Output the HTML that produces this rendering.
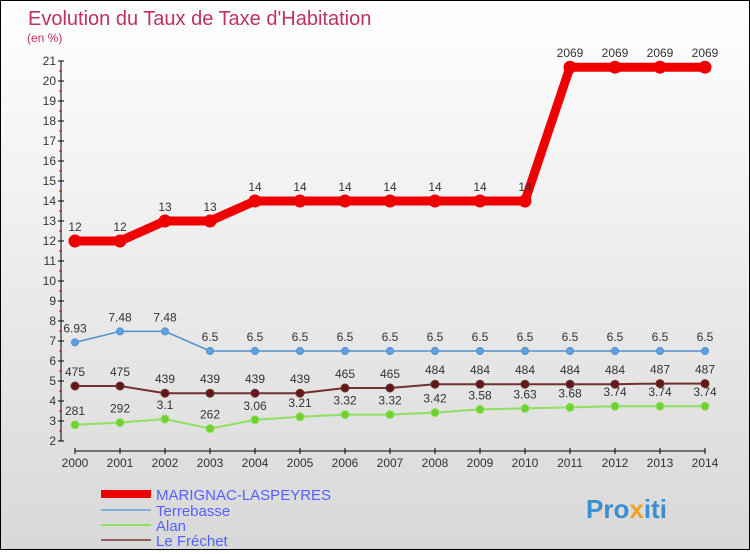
<!DOCTYPE html>
<html><head><meta charset="utf-8"><style>
body{margin:0;width:750px;height:550px;overflow:hidden;font-family:"Liberation Sans",sans-serif}
#wrap{position:relative;width:748px;height:548px;border:1px solid #000;background:linear-gradient(#fff,#d8d8d8)}
text{font-family:"Liberation Sans",sans-serif}
</style></head><body>
<div id="wrap">
<svg id="chart" width="748" height="548">
<text x="27" y="24" font-size="20" fill="#c03060">Evolution du Taux de Taxe d'Habitation</text>
<text x="26" y="41" font-size="12" fill="#c03060">(en %)</text>
<g id="axes"></g><g id="series"></g><g id="legend"></g>
<text x="585" y="517" font-size="26" font-weight="bold" fill="#3a8fd0">Pro<tspan fill="#f0a020">x</tspan>iti</text>
</svg></div>
<script>
const years=[2000,2001,2002,2003,2004,2005,2006,2007,2008,2009,2010,2011,2012,2013,2014];
const marignac=[12,12,13,13,14,14,14,14,14,14,14,20.69,20.69,20.69,20.69];
const marignacLabels=["12","12","13","13","14","14","14","14","14","14","14","2069","2069","2069","2069"];
const terrebasse=[6.93,7.48,7.48,6.5,6.5,6.5,6.5,6.5,6.5,6.5,6.5,6.5,6.5,6.5,6.5];
const terrebasseLabels=["6.93","7.48","7.48","6.5","6.5","6.5","6.5","6.5","6.5","6.5","6.5","6.5","6.5","6.5","6.5"];
const alan=[2.81,2.92,3.1,2.62,3.06,3.21,3.32,3.32,3.42,3.58,3.63,3.68,3.74,3.74,3.74];
const alanLabels=["281","292","3.1","262","3.06","3.21","3.32","3.32","3.42","3.58","3.63","3.68","3.74","3.74","3.74"];
const frechet=[4.75,4.75,4.39,4.39,4.39,4.39,4.65,4.65,4.84,4.84,4.84,4.84,4.84,4.87,4.87];
const frechetLabels=["475","475","439","439","439","439","465","465","484","484","484","484","484","487","487"];
const yTicks=[2,3,4,5,6,7,8,9,10,11,12,13,14,15,16,17,18,19,20,21];
const NS="http://www.w3.org/2000/svg";
const X=i=>74+45*i, Y=v=>440-(v-2)*20;
function mk(p,t,a){const e=document.createElementNS(NS,t);for(const k in a)e.setAttribute(k,a[k]);p.appendChild(e);return e;}
const ax=document.getElementById('axes');
let yl=mk(ax,'line',{x1:60,y1:Y(21),x2:60,y2:Y(2),stroke:'#000'});


yTicks.forEach(v=>{
 mk(ax,'line',{x1:57,y1:Y(v),x2:63,y2:Y(v),stroke:'#000'});
 if(v<21) mk(ax,'line',{x1:58,y1:Y(v+0.5),x2:61,y2:Y(v+0.5),stroke:'#f00'});
 const t=mk(ax,'text',{x:55,y:Y(v)+4,'text-anchor':'end','font-size':12,fill:'#333'});t.textContent=v;
 
 
});
let xl=mk(ax,'line',{x1:X(0),y1:450,x2:X(14),y2:450,stroke:'#000'});


years.forEach((y,i)=>{
 mk(ax,'line',{x1:X(i),y1:447,x2:X(i),y2:453,stroke:'#000'});
 const t=mk(ax,'text',{x:X(i),y:466,'text-anchor':'middle','font-size':12,fill:'#333'});t.textContent=y;
 
 
});
const sg=document.getElementById('series');
function series(vals,labs,color,w,r,pt,name){
 const g=mk(sg,'g',{});
 
 
 mk(g,'polyline',{points:vals.map((v,i)=>X(i)+','+Y(v)).join(' '),fill:'none',stroke:color,'stroke-width':w});
 vals.forEach((v,i)=>{
  const c=mk(g,'circle',{cx:X(i),cy:Y(v),r:r,fill:pt,stroke:color,'stroke-width':1});
  
  
  const t=mk(g,'text',{x:X(i),y:Y(v)-10,'text-anchor':'middle','font-size':12,fill:'#333'});t.textContent=labs[i];
 });
}
series(alan,alanLabels,'#90e060',2,4,'#70d030','series-alan');
series(frechet,frechetLabels,'#703030',2,4,'#601818','series-le-frechet');
series(terrebasse,terrebasseLabels,'#5090d0',1.5,3.5,'#5fa0e0','series-terrebasse');
series(marignac,marignacLabels,'#ee0000',9,6,'#ee0000','series-marignac-laspeyres');
const lg=document.getElementById('legend');
[['MARIGNAC-LASPEYRES','#ee0000',8,493],['Terrebasse','#80b0d8',2,509],['Alan','#90e060',2,524],['Le Fréchet','#906060',2,539]].forEach(([n,c,w,y])=>{
 const g=mk(lg,'g',{});
 
 
 mk(g,'line',{x1:100,y1:y,x2:150,y2:y,stroke:c,'stroke-width':w});
 const t=mk(g,'text',{x:155,y:y+6,'font-size':15,fill:'#5560ff'});t.textContent=n;
});
</script></body></html>
